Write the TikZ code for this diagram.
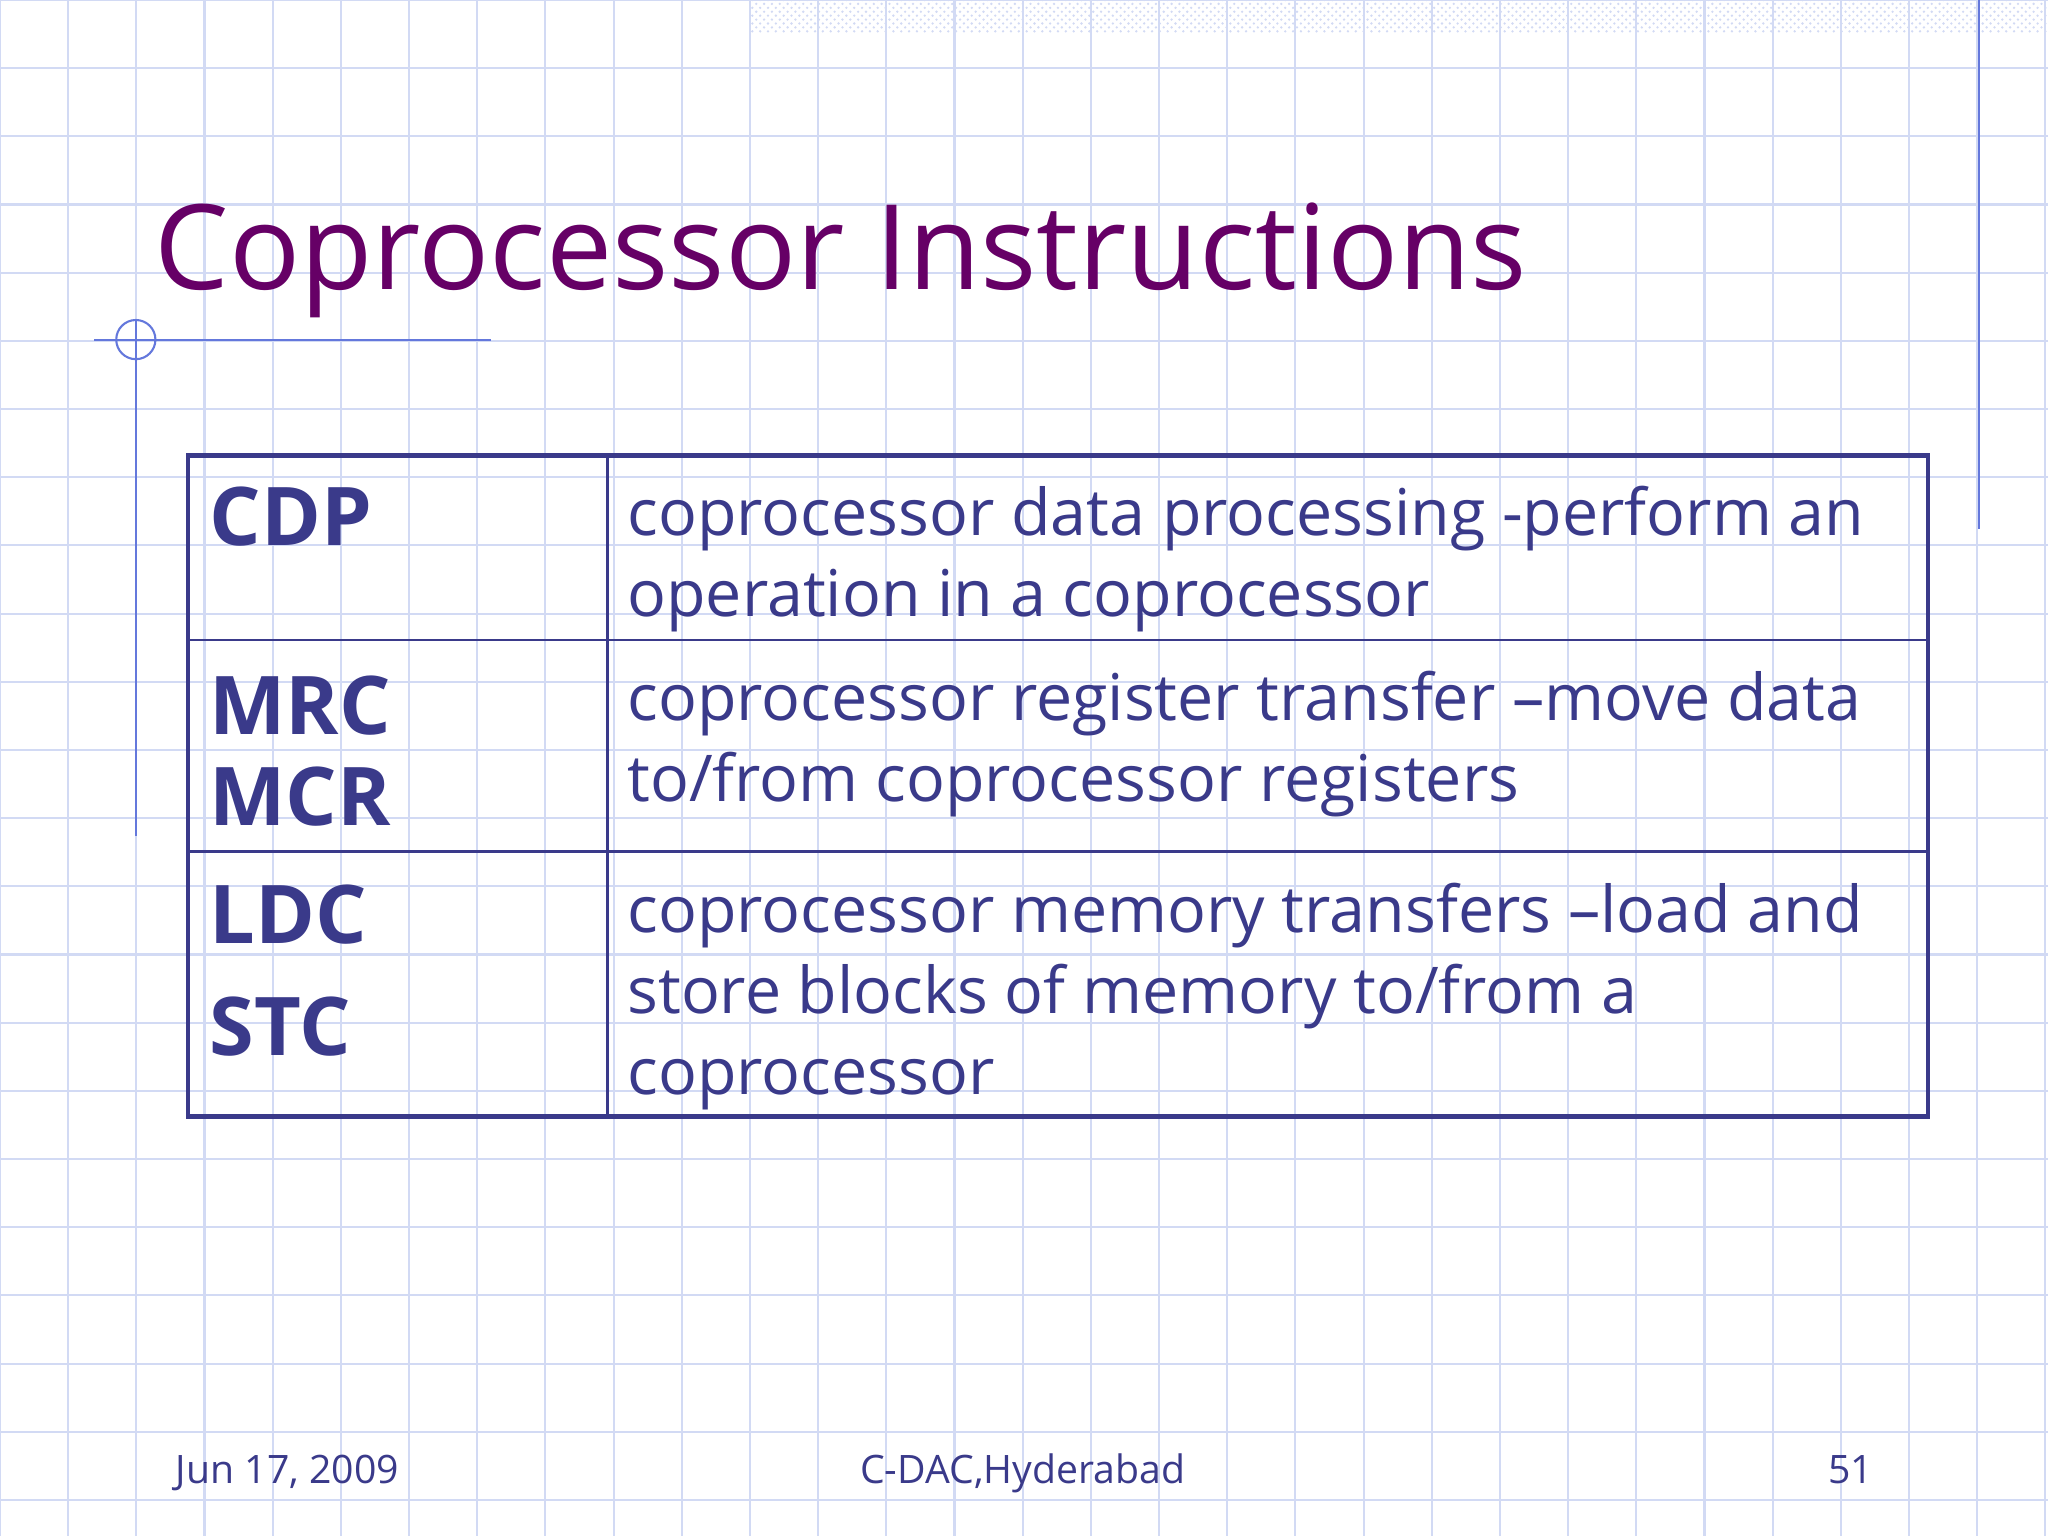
\documentclass[tikz,border=0pt]{standalone}
\usepackage{fontspec}
\setmainfont{Open Sans}
\usetikzlibrary{patterns}
\definecolor{gridc}{RGB}{210,218,244}
\definecolor{ttl}{RGB}{102,0,102}
\definecolor{txt}{RGB}{58,58,138}
\definecolor{deco}{RGB}{100,120,220}
\begin{document}
\begin{tikzpicture}[x=0.5pt,y=-0.5pt,
  cell/.style={anchor=base west,inner sep=0pt,text=txt},
  lbl/.style={cell,font=\fontsize{31}{36}\selectfont\bfseries},
  desc/.style={cell,font=\fontsize{24.7}{30}\selectfont},
  foot/.style={anchor=base,inner sep=0pt,text=txt,font=\fontsize{15}{18}\selectfont}]
\useasboundingbox (0,0) rectangle (1568,1176);
\fill[white] (0,0) rectangle (1568,1176);
\foreach \i in {0,...,30} {\draw[gridc,line width=0.8pt] (52.2*\i,0) -- (52.2*\i,1176);}
\foreach \i in {0,...,23} {\draw[gridc,line width=0.8pt] (0,52.2*\i) -- (1568,52.2*\i);}
\fill[pattern=crosshatch dots,pattern color=gridc] (575,0) rectangle (1568,25);
\draw[deco,line width=0.8pt] (1515,0) -- (1515,405);
\draw[deco,line width=0.8pt] (72,260) -- (376,260);
\draw[deco,line width=0.8pt] (104,245) -- (104,640);
\draw[deco,line width=0.8pt] (104,260) circle (15);
\node[anchor=base west,inner sep=0pt,text=ttl,font=\fontsize{45.2}{54}\selectfont] (title) at (118,222) {Coprocessor Instructions};
% table
\draw[txt,line width=1.8pt] (144,349) rectangle (1476,855);
\draw[txt,line width=1pt] (465,349) -- (465,855);
\draw[txt,line width=1pt] (144,490) -- (1476,490);
\draw[txt,line width=1pt] (144,652) -- (1476,652);
\node[lbl] (cdp) at (160,418) {CDP};
\node[lbl] (mrc) at (160,562) {MRC};
\node[lbl] (mcr) at (160,632) {MCR};
\node[lbl] (ldc) at (160,722) {LDC};
\node[lbl] (stc) at (160,808) {STC};
\node[desc] (d1) at (480,410) {coprocessor data processing -perform an};
\node[desc] (d2) at (480,472) {operation in a coprocessor};
\node[desc] (d3) at (480,552) {coprocessor register transfer –move data};
\node[desc] (d4) at (480,614) {to/from coprocessor registers};
\node[desc] (d5) at (480,714) {coprocessor memory transfers –load and};
\node[desc] (d6) at (480,776) {store blocks of memory to/from a};
\node[desc] (d7) at (480,838) {coprocessor};
\node[foot] (f1) at (220,1136) {Jun 17, 2009};
\node[foot] (f2) at (783,1136) {C-DAC,Hyderabad};
\node[foot] (f3) at (1417,1136) {51};
\end{tikzpicture}
\end{document}
